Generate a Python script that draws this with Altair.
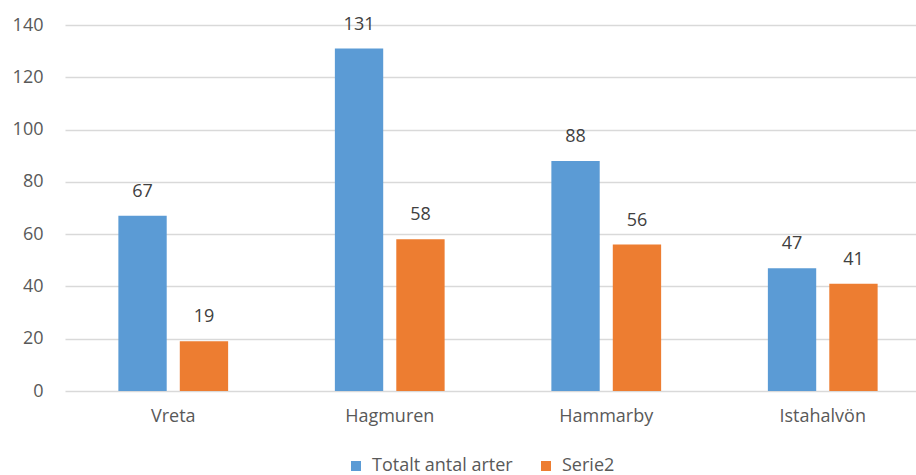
import altair as alt
import pandas as pd

categories = ["Vreta", "Hagmuren", "Hammarby", "Istahalvön"]
series_names = ["Totalt antal arter", "Serie2"]
totalt = [67, 131, 88, 47]
serie2 = [19, 58, 56, 41]
y_ticks = [0, 20, 40, 60, 80, 100, 120, 140]

rows = []
for c, a, b in zip(categories, totalt, serie2):
    rows.append({"plats": c, "serie": series_names[0], "värde": a})
    rows.append({"plats": c, "serie": series_names[1], "värde": b})
df = pd.DataFrame(rows)

FONT = "Open Sans"
GRAY = "#595959"

x = alt.X("plats:N", sort=categories,
          scale=alt.Scale(range=[0, 866], paddingInner=0.493, paddingOuter=0.2465),
          axis=alt.Axis(title=None, labelAngle=0, domain=False, ticks=False, grid=False,
                        labelPadding=16, labelFont=FONT, labelFontSize=18,
                        labelColor=GRAY))
xo = alt.XOffset("serie:N", sort=series_names,
                 scale=alt.Scale(paddingInner=0.213, paddingOuter=0))
y = alt.Y("värde:Q", scale=alt.Scale(domain=[0, 140], nice=False),
          axis=alt.Axis(title=None, values=y_ticks, domain=False, ticks=False,
                        labelPadding=22, labelFont=FONT, labelFontSize=18,
                        labelColor=GRAY, gridColor="#D9D9D9", gridWidth=1.3))
color = alt.Color("serie:N", sort=series_names,
                  scale=alt.Scale(domain=series_names, range=["#5B9BD5", "#ED7D31"]),
                  legend=alt.Legend(title=None, orient="none", direction="horizontal",
                                    legendX=282, legendY=432, symbolType="square",
                                    symbolSize=100, symbolStrokeWidth=0,
                                    labelFont=FONT, labelFontSize=18, labelColor=GRAY,
                                    columnPadding=24, symbolOffset=0, labelOffset=7))

bars = alt.Chart(df).mark_bar().encode(x=x, xOffset=xo, y=y, color=color)
labels = alt.Chart(df).mark_text(dy=-24, font=FONT, fontSize=18, color="#404040").encode(
    x=alt.X("plats:N", sort=categories),
    xOffset=alt.XOffset("serie:N", sort=series_names),
    y=alt.Y("värde:Q"), text="värde:Q")

chart = (bars + labels).properties(
    width=851, height=366,
    background="white",
    autosize=alt.AutoSizeParams(type="none"),
    padding={"left": 65, "top": 25, "right": 0, "bottom": 84},
).configure_view(strokeWidth=0, stroke="transparent").configure_axis(
    domain=False, ticks=False).configure_axisX(grid=False)

chart.save("out.html", embed_options={"renderer": "svg", "actions": False})
